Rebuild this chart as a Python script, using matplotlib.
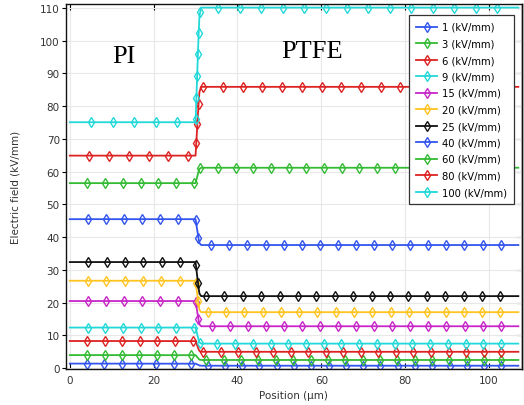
import matplotlib
matplotlib.use("Agg")
import matplotlib.pyplot as plt
from matplotlib.lines import Line2D
import numpy as np

# applied field per curve (kV/mm) and plateau fields
fields = [1, 3, 6, 9, 15, 20, 25, 40, 60, 80, 100]
e_pi = [1.4, 4.0, 8.3, 12.4, 20.5, 26.7, 32.4, 45.5, 56.5, 64.9, 75.1]
e_ptfe = [0.75, 2.5, 5.0, 7.5, 12.8, 17.1, 22.0, 37.6, 61.2, 85.9, 110.1]
colors = ["#3355ee", "#33bb33", "#dd2222", "#22d8d8", "#c825c8", "#ffc420",
          "#111111", "#3355ee", "#33bb33", "#dd2222", "#22d8d8"]

# shape of the jump across the PI/PTFE interface (fraction of the step)
interface_x = [0.0, 30.0, 30.3, 30.6, 30.9, 31.3, 107.0]
interface_frac = [0.0, 0.0, 0.3, 0.65, 0.92, 1.0, 1.0]
total_thickness = 107.0
n_markers = 25

fig = plt.figure(figsize=(5.24, 4.06), dpi=100)
ax = fig.add_axes([0.126, 0.0899, 0.8696, 0.8978])
ax.set_xlim(-0.9, 107.8)
ax.set_ylim(-0.1, 111.2)

mesh = np.linspace(0, total_thickness, 10701)
frac = np.interp(mesh, interface_x, interface_frac)

corner = ax.transAxes.transform([[0, 0], [1, 1]])
diag = np.hypot(*(corner[1] - corner[0]))

marker_style = dict(marker="d", ms=4.6, mfc="none", mew=1.0)

handles = []
for field, lo, hi, col in zip(fields, e_pi, e_ptfe, colors):
    y = lo + (hi - lo) * frac
    pts = ax.transData.transform(np.column_stack([mesh, y]))
    length = np.hypot(*np.diff(pts, axis=0).T).sum()
    step = length / (n_markers + 0.98) / diag
    ax.plot(mesh, y, color=col, lw=1.3, mec=col, markevery=(step, step),
            **marker_style)
    handles.append(Line2D([], [], color=col, lw=1.3, mec=col,
                          label=f"{field} (kV/mm)", **marker_style))

ax.text(12.8, 93.5, "PI", family="Liberation Serif", fontsize=19,
        ha="center", va="baseline")
ax.text(57.9, 95.1, "PTFE", family="Liberation Serif", fontsize=19,
        ha="center", va="baseline")

ax.set_xticks(np.arange(0, 101, 20))
ax.set_yticks(np.arange(0, 111, 10))
ax.grid(color="#e8e8e8", lw=0.8)
ax.set_axisbelow(True)
for sp in ax.spines.values():
    sp.set_linewidth(1.0)
    sp.set_color("#111111")

ax.tick_params(axis="x", direction="in", top=True, length=4, width=0.8,
               labelsize=7.5, labelcolor="#333333", pad=5)
ax.tick_params(axis="y", direction="out", length=3, width=0.8,
               labelsize=7.5, labelcolor="#333333", pad=1.5)
sec = ax.secondary_yaxis("right")
sec.set_yticks(np.arange(0, 111, 10))
sec.tick_params(direction="in", length=4, width=0.8, labelright=False)
sec.spines["right"].set_linewidth(1.0)

ax.set_xlabel("Position (\u00b5m)", fontsize=7.5, color="#333333", labelpad=3)
ax.set_ylabel("Electric field (kV/mm)", fontsize=7.5, color="#333333",
              labelpad=14)

leg = ax.legend(handles=handles, loc="upper left",
                bbox_to_anchor=(409.3 / 524, 1 - 16 / 406),
                bbox_transform=fig.transFigure, borderaxespad=0,
                fontsize=7.2, labelspacing=0.65, handlelength=2.1,
                handletextpad=0.5, borderpad=0.7, fancybox=False,
                framealpha=1, edgecolor="#333333")
leg.get_frame().set_linewidth(0.9)

fig.savefig("out.png", dpi=100)
